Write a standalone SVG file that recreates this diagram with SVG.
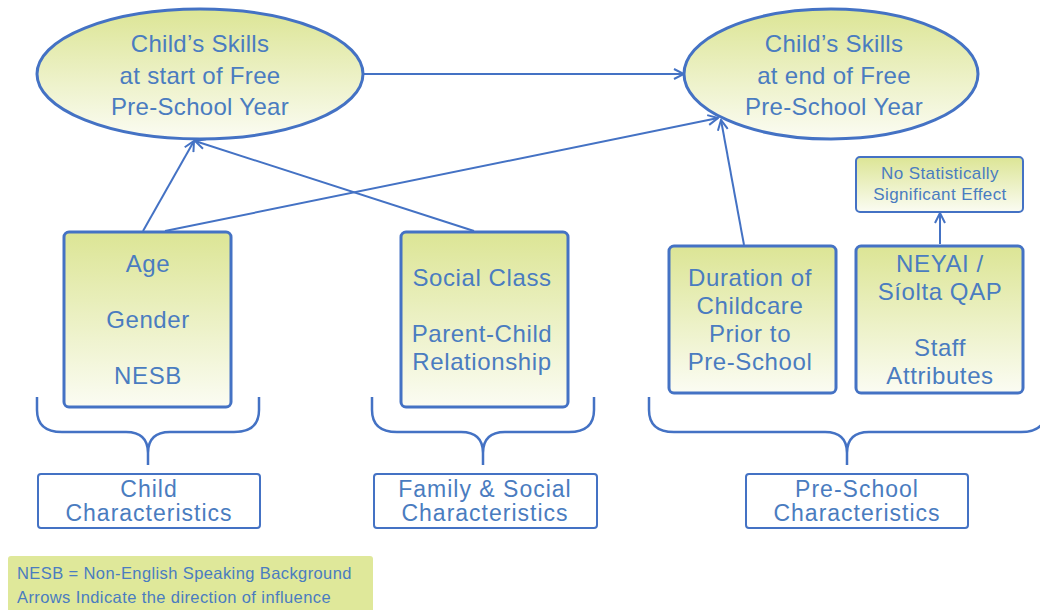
<svg xmlns="http://www.w3.org/2000/svg" width="1040" height="610" viewBox="0 0 1040 610">
  <defs>
    <linearGradient id="fillGrad" x1="0" y1="0" x2="0" y2="1">
      <stop offset="0" stop-color="#DCE595"/>
      <stop offset="1" stop-color="#FBFCF3"/>
    </linearGradient>
    <marker id="arrow" viewBox="0 0 12 12" refX="11" refY="6" markerWidth="12" markerHeight="12" markerUnits="userSpaceOnUse" orient="auto">
      <path d="M1,1 L11,6 L1,11" fill="none" stroke="#4472C4" stroke-width="2"/>
    </marker>
    <style>
      .node { fill: url(#fillGrad); stroke: #4472C4; stroke-width: 3; }
      .label { fill: #FFFFFF; stroke: #4472C4; stroke-width: 2; }
      .edge { fill: none; stroke: #4472C4; stroke-width: 2; marker-end: url(#arrow); }
      .brace { fill: none; stroke: #4472C4; stroke-width: 2.5; stroke-linejoin: round; }
      text { font-family: "Liberation Sans", Arial, sans-serif; fill: #4A7CC0; text-anchor: middle; }
      .big { font-size: 24px; letter-spacing: 0.3px; }
      .mid { font-size: 24px; letter-spacing: 0.6px; }
      .lab { font-size: 23px; letter-spacing: 1px; }
      .small { font-size: 17px; letter-spacing: 0.4px; }
      .note { font-size: 16.5px; letter-spacing: 0.4px; text-anchor: start; }
    </style>
  </defs>

  <rect width="1040" height="610" fill="#FFFFFF"/>

  <!-- connectors -->
  <g id="connectors">
    <line class="edge" x1="364" y1="74" x2="684" y2="74"/>
    <line class="edge" x1="143" y1="231" x2="194" y2="141"/>
    <line class="edge" x1="474" y1="231" x2="195" y2="141"/>
    <line class="edge" x1="165" y1="231" x2="718" y2="118"/>
    <line class="edge" x1="744" y1="245" x2="721" y2="120"/>
    <line class="edge" x1="940" y1="244" x2="940" y2="213"/>
  </g>

  <!-- outcome ellipses -->
  <g id="skills-start">
    <ellipse class="node" cx="200" cy="74" rx="163" ry="65"/>
    <text class="big" x="200" y="52">Child’s Skills</text>
    <text class="big" x="200" y="84">at start of Free</text>
    <text class="big" x="200" y="115">Pre-School Year</text>
  </g>
  <g id="skills-end">
    <ellipse class="node" cx="831" cy="74" rx="147" ry="65"/>
    <text class="big" x="834" y="52">Child’s Skills</text>
    <text class="big" x="834" y="84">at end of Free</text>
    <text class="big" x="834" y="115">Pre-School Year</text>
  </g>

  <!-- factor boxes -->
  <g id="child-factors">
    <rect class="node" x="64" y="232" width="167" height="175" rx="5"/>
    <text class="mid" x="148" y="272">Age</text>
    <text class="mid" x="148" y="328">Gender</text>
    <text class="mid" x="148" y="384">NESB</text>
  </g>
  <g id="family-factors">
    <rect class="node" x="401" y="232" width="167" height="175" rx="5"/>
    <text class="mid" x="482" y="286">Social Class</text>
    <text class="mid" x="482" y="342">Parent-Child</text>
    <text class="mid" x="482" y="370">Relationship</text>
  </g>
  <g id="childcare-duration">
    <rect class="node" x="669" y="246" width="167" height="147" rx="5"/>
    <text class="mid" x="750" y="286">Duration of</text>
    <text class="mid" x="750" y="314">Childcare</text>
    <text class="mid" x="750" y="342">Prior to</text>
    <text class="mid" x="750" y="370">Pre-School</text>
  </g>
  <g id="quality-staff">
    <rect class="node" x="856" y="246" width="167" height="147" rx="5"/>
    <text class="mid" x="940" y="272">NEYAI /</text>
    <text class="mid" x="940" y="300">Síolta QAP</text>
    <text class="mid" x="940" y="356">Staff</text>
    <text class="mid" x="940" y="384">Attributes</text>
  </g>
  <g id="no-effect">
    <rect class="node" x="856" y="157" width="167" height="55" rx="4" style="stroke-width:2"/>
    <text class="small" x="940" y="179">No Statistically</text>
    <text class="small" x="940" y="200">Significant Effect</text>
  </g>

  <!-- grouping braces -->
  <g id="braces">
    <path class="brace" d="M37,397 V410 Q37,432 62,432 H126 Q148,432 148,453 V465 M259,397 V410 Q259,432 234,432 H170 Q148,432 148,453"/>
    <path class="brace" d="M372,397 V410 Q372,432 397,432 H461 Q483,432 483,453 V465 M594,397 V410 Q594,432 569,432 H505 Q483,432 483,453"/>
    <path class="brace" d="M649,397 V410 Q649,432 674,432 H825 Q847,432 847,453 V465 M1046,397 V410 Q1046,432 1021,432 H869 Q847,432 847,453"/>
  </g>

  <!-- group labels -->
  <g id="label-child">
    <rect class="label" x="38" y="474" width="222" height="54" rx="3"/>
    <text class="lab" x="149" y="497">Child</text>
    <text class="lab" x="149" y="521">Characteristics</text>
  </g>
  <g id="label-family">
    <rect class="label" x="374" y="474" width="223" height="54" rx="3"/>
    <text class="lab" x="485" y="497">Family &amp; Social</text>
    <text class="lab" x="485" y="521">Characteristics</text>
  </g>
  <g id="label-preschool">
    <rect class="label" x="746" y="474" width="222" height="54" rx="3"/>
    <text class="lab" x="857" y="497">Pre-School</text>
    <text class="lab" x="857" y="521">Characteristics</text>
  </g>

  <!-- legend -->
  <g id="legend">
    <rect x="8" y="556" width="365" height="60" rx="3" fill="#DFE89A"/>
    <text class="note" x="17" y="579">NESB = Non-English Speaking Background</text>
    <text class="note" x="17" y="603">Arrows Indicate the direction of influence</text>
  </g>
</svg>
